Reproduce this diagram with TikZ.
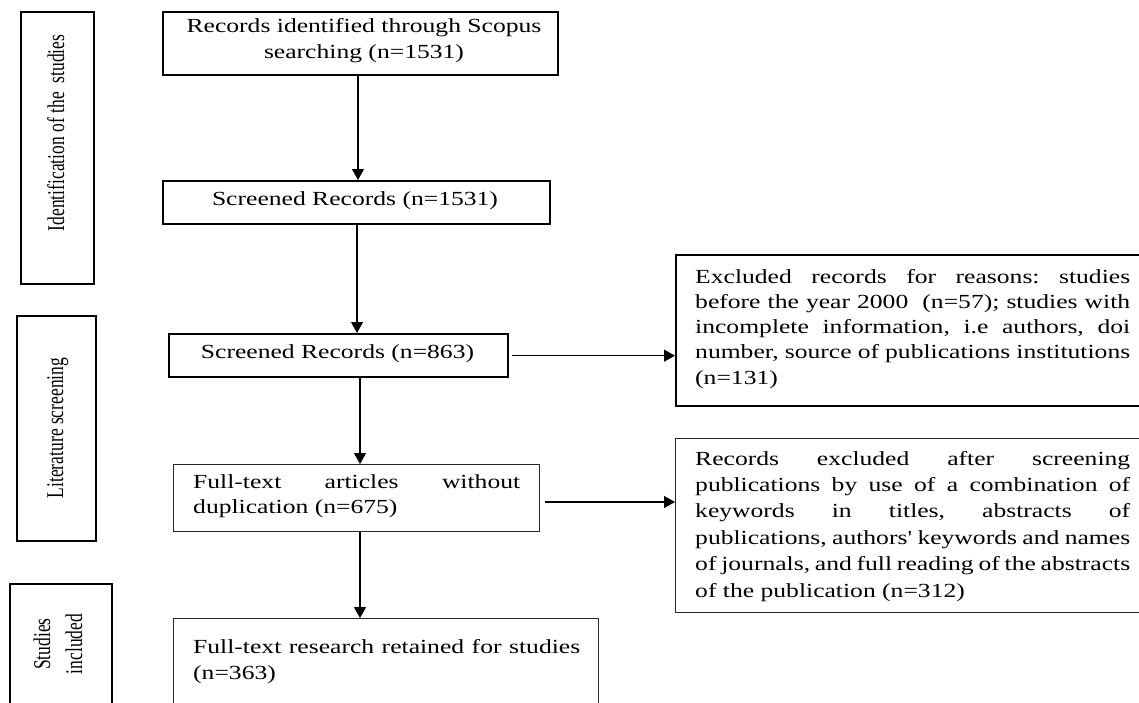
\documentclass[tikz,border=0pt]{standalone}
\usepackage{fontspec}
\setmainfont{Liberation Serif}
\newfontfamily\mainf[FakeStretch=1.28]{Liberation Serif}
\newfontfamily\labf[FakeStretch=0.73]{Liberation Serif}
\usetikzlibrary{arrows.meta}
\frenchspacing
\newcommand{\jline}[1]{\makebox[\linewidth][s]{#1}\\}
\begin{document}
\begin{tikzpicture}[x=1pt,y=-1pt,
  thickbox/.style={draw=black, line width=2.3pt, inner sep=0pt, anchor=north west},
  thinbox/.style={draw=black!85, line width=1.3pt, inner sep=0pt, anchor=north west},
  arr/.style={draw=black, line width=1.2pt, -{Triangle[length=11pt,width=12pt]}},
  txt/.style={inner sep=0pt, anchor=base west},
  ctxt/.style={inner sep=0pt, anchor=base},
  lab/.style={inner sep=0pt, rotate=90, font=\labf\fontsize{24}{32}\selectfont}]
\useasboundingbox (0,0) rectangle (1139,702);
\clip (0,0) rectangle (1139,702);
% side labels
\node[thickbox, minimum width=73pt, minimum height=272pt] (L1) at (20,11) {};
\node[thickbox, minimum width=79pt, minimum height=225pt] (L2) at (16,315) {};
\node[thickbox, minimum width=102pt, minimum height=160pt] (L3) at (9,583) {};
\node[lab, anchor=base] (l1t) at (64,133) {Identification of the\ \ studies};
\node[lab, anchor=base] (l2t) at (63,428) {Literature screening};
\node[lab, anchor=base] (l3t) at (50,644)
  {\parbox[t]{90pt}{\centering\baselineskip=32pt Studies\\included\par}};
% main boxes
\node[thickbox, minimum width=395pt, minimum height=63pt] (b1) at (162,11) {};
\node[thickbox, minimum width=387pt, minimum height=43pt] (b2) at (162,180) {};
\node[thickbox, minimum width=339pt, minimum height=43pt] (b3) at (168,333) {};
\node[thinbox, minimum width=366pt, minimum height=67pt] (b4) at (173,464) {};
\node[thinbox, minimum width=425pt, minimum height=130pt] (b5) at (173,618) {};
\node[thickbox, minimum width=520pt, minimum height=151pt] (b6) at (675,254) {};
\node[thinbox, minimum width=520pt, minimum height=174pt] (b7) at (675,438) {};
% texts
\node[ctxt, font=\mainf\fontsize{20}{26}\selectfont] (t1) at (364,32)
  {\parbox[t]{420pt}{\centering Records identified through Scopus\\searching (n=1531)}};
\node[ctxt, font=\mainf\fontsize{20}{26}\selectfont] (t2) at (355,205) {Screened Records (n=1531)};
\node[ctxt, font=\mainf\fontsize{20}{26}\selectfont] (t3) at (337.5,358) {Screened Records (n=863)};
\node[txt, font=\mainf\fontsize{20}{25}\selectfont] (t4) at (193,488)
  {\parbox[t]{327pt}{\jline{Full-text articles without}duplication (n=675)}};
\node[txt, font=\mainf\fontsize{20}{26}\selectfont] (t5) at (193,653)
  {\parbox[t]{387pt}{\jline{Full-text research retained for studies}(n=363)}};
\node[txt, font=\mainf\fontsize{20}{25.3}\selectfont] (t6) at (695,283)
  {\parbox[t]{435pt}{\jline{Excluded records for reasons: studies}\jline{before the year 2000\ \ (n=57); studies with}\jline{incomplete information, i.e authors, doi}\jline{number, source of publications institutions}(n=131)}};
\node[txt, font=\mainf\fontsize{20}{26.4}\selectfont] (t7) at (695,465)
  {\parbox[t]{435pt}{\jline{Records excluded after screening}\jline{publications by use of a combination of}\jline{keywords in titles, abstracts of}\jline{publications, authors' keywords and names}\jline{of journals, and full reading of the abstracts}of the publication (n=312)}};
% connectors
\coordinate (c1) at (358,0);
\coordinate (c2) at (357,0);
\coordinate (c3) at (360,0);
\coordinate (c6) at (0,502);
\draw[arr] (b1.south -| c1) -- (b2.north -| c1);
\draw[arr] (b2.south -| c2) -- (b3.north -| c2);
\draw[arr] (b3.south -| c3) -- (b4.north -| c3);
\draw[arr] (b4.south -| c3) -- (b5.north -| c3);
\draw[arr] ([xshift=3pt]b3.east) -- (b3.east -| b6.west);
\draw[arr] ([xshift=5pt]b4.east |- c6) -- (b7.west |- c6);
\end{tikzpicture}
\end{document}
